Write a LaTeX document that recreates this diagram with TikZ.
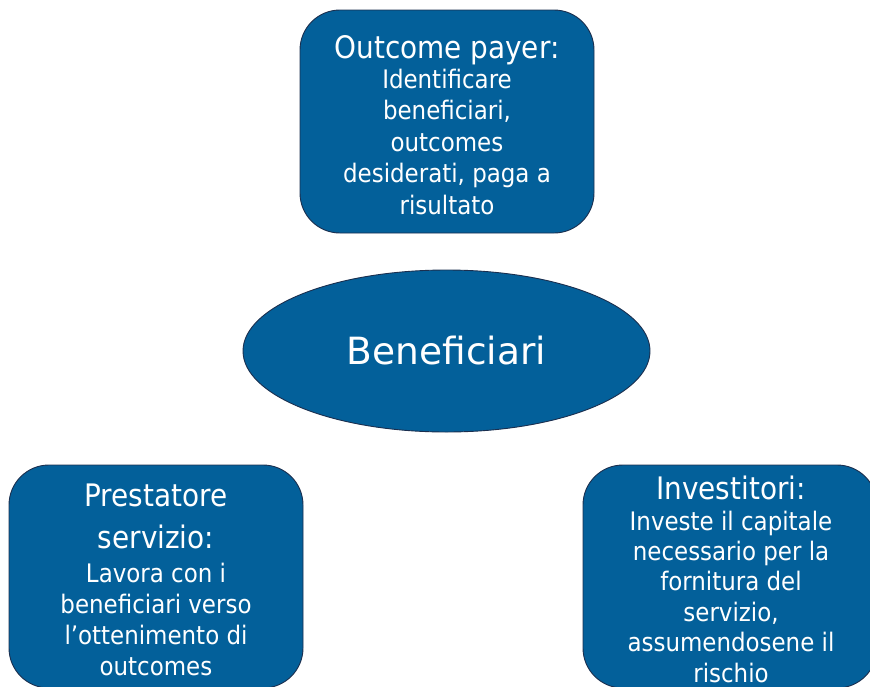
\documentclass[tikz,border=0pt]{standalone}
\usepackage{fontspec}
\setmainfont{DejaVu Sans Condensed}
\newfontfamily\ovalfam{DejaVu Sans}
\usetikzlibrary{shapes.geometric}
\definecolor{boxfill}{HTML}{03609A}
\definecolor{boxline}{HTML}{1B2F4F}
\newcommand{\ttlfont}{\fontsize{31}{31}\selectfont}
\tikzset{
  rbox/.style={draw=boxline, line width=0.9pt, fill=boxfill, rounded corners=40pt,
    minimum width=294pt, minimum height=223pt, inner sep=0pt},
  boxtext/.style={text=white, align=center, inner sep=0pt},
  oval/.style={ellipse, draw=boxline, line width=0.9pt, fill=boxfill,
    minimum width=407pt, minimum height=162pt, text=white, inner sep=0pt,
    font=\ovalfam\fontsize{37.5}{44}\selectfont}
}
\begin{document}
\begin{tikzpicture}[x=1pt,y=-1pt]
\useasboundingbox (0,0) rectangle (870,686);
\clip (0,0) rectangle (870,686);
\node[rbox] (payer) at (447,121.5) {};
\node[boxtext, font=\fontsize{25.5}{31.5}\selectfont] (payertxt) at (447,125)
  {{\ttlfont Outcome payer:}\\[-1.5pt]Identificare\\beneficiari,\\outcomes\\desiderati, paga a\\risultato};
\node[oval] (benef) at (446.5,351) {Beneficiari};
\node[rbox] (prest) at (156,576.5) {};
\node[boxtext, font=\fontsize{25.5}{31}\selectfont] (presttxt) at (156,579.5)
  {{\ttlfont Prestatore}\\[11pt]{\ttlfont servizio:}\\[3pt]Lavora con i\\beneficiari verso\\l’ottenimento di\\outcomes};
\node[rbox] (invest) at (730,576.5) {};
\node[boxtext, font=\fontsize{25.5}{30.4}\selectfont] (investtxt) at (731,579)
  {{\ttlfont Investitori:}\\[0.4pt]Investe il capitale\\necessario per la\\fornitura del\\servizio,\\assumendosene il\\rischio};
\end{tikzpicture}
\end{document}
